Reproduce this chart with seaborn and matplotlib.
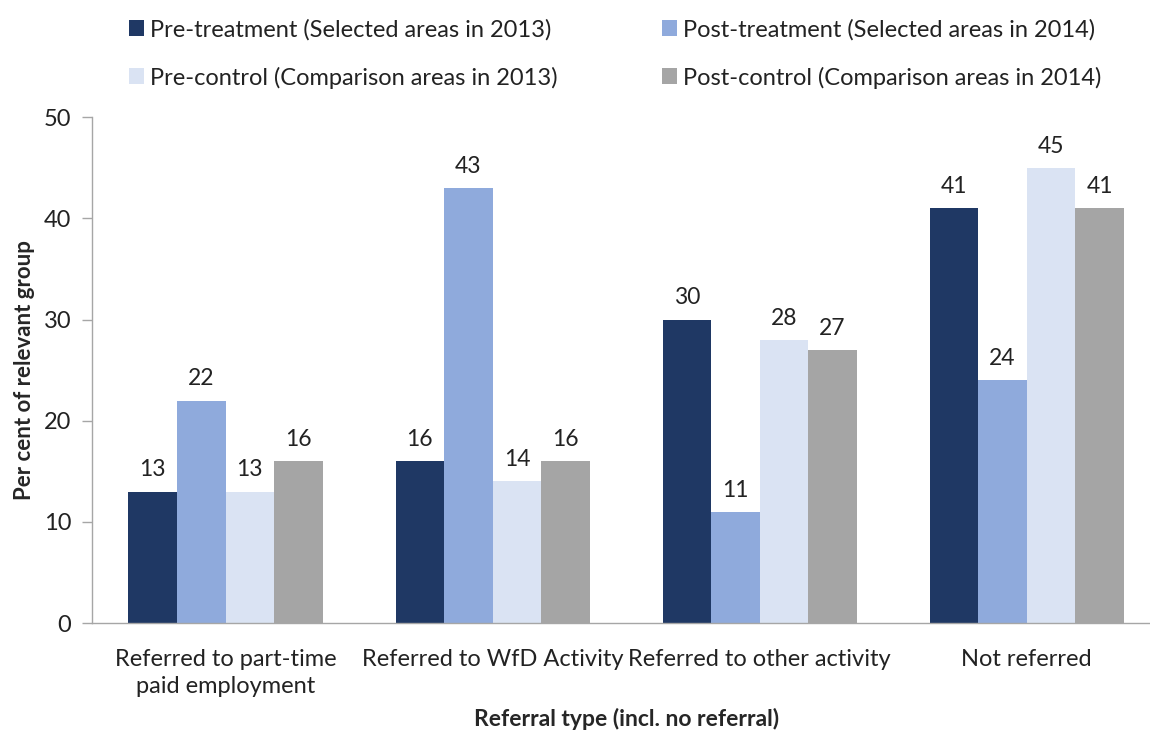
import pandas as pd
import matplotlib
matplotlib.use("Agg")
import matplotlib.pyplot as plt
import seaborn as sns

categories = ["Referred to part-time\npaid employment", "Referred to WfD Activity",
              "Referred to other activity", "Not referred"]
series = ["Pre-treatment (Selected areas in 2013)", "Post-treatment (Selected areas in 2014)",
          "Pre-control (Comparison areas in 2013)", "Post-control (Comparison areas in 2014)"]
pre_treatment = [13, 16, 30, 41]
post_treatment = [22, 43, 11, 24]
pre_control = [13, 14, 28, 45]
post_control = [16, 16, 27, 41]
colors = ["#1F3864", "#8FAADC", "#DAE3F3", "#A5A5A5"]

rows = []
for name, vals in zip(series, [pre_treatment, post_treatment, pre_control, post_control]):
    for cat, v in zip(categories, vals):
        rows.append({"Referral": cat, "Group": name, "Value": v})
df = pd.DataFrame(rows)

sns.set_style("white")
plt.rcParams["font.family"] = ["Lato", "DejaVu Sans"]

fig = plt.figure(figsize=(11.5, 7.33), dpi=100)
ax = fig.add_axes([0.08, 0.150, 0.929, 0.690])

sns.barplot(data=df, x="Referral", y="Value", hue="Group", order=categories,
            hue_order=series, palette=colors, width=0.727, saturation=1,
            edgecolor="none", ax=ax)

for c in ax.containers:
    ax.bar_label(c, padding=8, fontsize=16.5, color="#222222")

ax.set_ylim(0, 50)
ax.set_xlim(-0.5, 3.5)
ax.set_yticks(range(0, 51, 10))
ax.set_xticks([-0.5, 0.5, 1.5, 2.5], minor=True)
ax.tick_params(axis="x", which="major", length=0, pad=19, labelsize=17, colors="#222222")
ax.tick_params(axis="x", which="minor", length=7, width=1, color="#A6A6A6", direction="out")
ax.tick_params(axis="y", length=7, width=1, color="#A6A6A6", direction="out", pad=8,
               labelsize=17, labelcolor="#222222", left=True)
for lbl in ax.get_xticklabels():
    lbl.set_linespacing(1.3)
for s in ["top", "right"]:
    ax.spines[s].set_visible(False)
for s in ["left", "bottom"]:
    ax.spines[s].set_color("#A6A6A6")
    ax.spines[s].set_linewidth(1)

ax.set_xlabel("Referral type (incl. no referral)", fontsize=16.5, fontweight="bold", labelpad=8)
ax.set_ylabel("Per cent of relevant group", fontsize=16, fontweight="bold", labelpad=6)

handles, labels = ax.get_legend_handles_labels()
ax.get_legend().remove()
order = [0, 2, 1, 3]
fig.legend([handles[i] for i in order], [labels[i] for i in order], ncol=2,
           loc="upper left", bbox_to_anchor=(0.112, 0.974), frameon=False, fontsize=17,
           borderpad=0, borderaxespad=0,
           handlelength=0.65, handleheight=0.65, handletextpad=0.25,
           columnspacing=4.4, labelspacing=1.1, labelcolor="#222222")

fig.savefig("out.png", dpi=100)
